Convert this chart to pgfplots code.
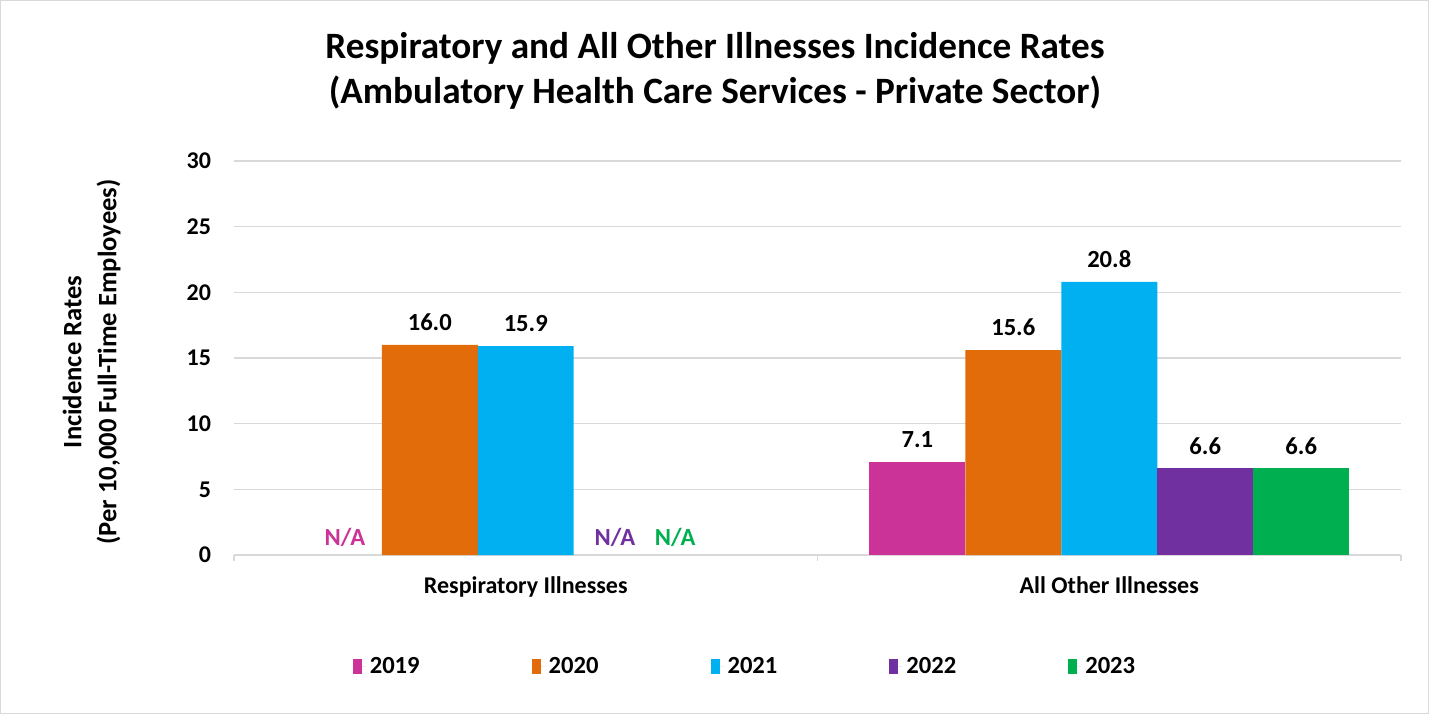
\documentclass[border=0pt]{standalone}
\usepackage{fontspec}
\setmainfont{Carlito}
\usepackage{pgfplots}
\pgfplotsset{compat=1.18}
\definecolor{c19}{HTML}{CC3399}
\definecolor{c20}{HTML}{E36C0A}
\definecolor{c21}{HTML}{00B0F0}
\definecolor{c22}{HTML}{7030A0}
\definecolor{c23}{HTML}{00B050}
\definecolor{gridc}{HTML}{D9D9D9}
\begin{document}
\begin{tikzpicture}[font=\bfseries]
\useasboundingbox (0,0) rectangle (714.5pt,357pt);
\draw[gridc, line width=0.5pt] (0.25pt,0.25pt) rectangle (714.25pt,356.75pt);
\node[font=\fontsize{18.6}{22}\selectfont\bfseries] at (357.5pt,333pt) {Respiratory and All Other Illnesses Incidence Rates};
\node[font=\fontsize{18.6}{22}\selectfont\bfseries] at (357.5pt,310.5pt) {(Ambulatory Health Care Services - Private Sector)};
\begin{axis}[
  at={(117pt,79.5pt)}, anchor=south west,
  scale only axis, width=583.5pt, height=197pt,
  xmin=-0.5, xmax=1.5, ymin=0, ymax=30,
  ytick={0,5,...,30},
  ymajorgrids, grid style={gridc, line width=0.75pt},
  axis x line*=bottom, axis y line*=left,
  y axis line style={draw=none},
  x axis line style={gridc, line width=0.75pt},
  ytick style={draw=none},
  xtick={-0.5,0.5,1.5}, xticklabels={},
  xtick style={gridc, line width=0.75pt},
  tick align=outside, major tick length=3pt,
  extra x ticks={0,1},
  extra x tick labels={Respiratory Illnesses, All Other Illnesses},
  extra x tick style={major tick length=0pt, tick style={draw=none}, xticklabel style={yshift=-7.5pt}},
  ticklabel style={font=\fontsize{12}{14}\selectfont\bfseries},
  yticklabel style={xshift=-5pt},
  /pgf/number format/assume math mode=true,
  ylabel={Incidence Rates\\(Per 10,000 Full-Time Employees)},
  ylabel style={at={(axis description cs:-0.122,0.49)}, anchor=center, align=center, font=\fontsize{13.3}{17.5}\selectfont\bfseries},
  ybar, bar width=0.1645,
  nodes near coords,
  nodes near coords style={font=\fontsize{12.3}{14}\selectfont\bfseries, black, yshift=3.5pt, /pgf/number format/fixed, /pgf/number format/fixed zerofill, /pgf/number format/precision=1, /pgf/number format/assume math mode=true},
  legend columns=5,
  legend style={at={(axis description cs:0.4387,-0.284)}, anchor=center, draw=none, font=\fontsize{12.3}{14}\selectfont\bfseries, /tikz/every even column/.append style={column sep=54pt}},
  legend image code/.code={\fill[#1] (0pt,-3.75pt) rectangle (4.5pt,3.75pt); \path (4.5pt,0pt) -- (6.5pt,0pt);},
]
\addplot[fill=c19, draw=none, bar shift=-0.329] coordinates {(1,7.1)};
\addplot[fill=c20, draw=none, bar shift=-0.1645] coordinates {(0,16.0) (1,15.6)};
\addplot[fill=c21, draw=none, bar shift=0] coordinates {(0,15.9) (1,20.8)};
\addplot[fill=c22, draw=none, bar shift=0.1645] coordinates {(1,6.6)};
\addplot[fill=c23, draw=none, bar shift=0.329] coordinates {(1,6.6)};
\legend{2019,2020,2021,2022,2023}
\node[c19, font=\fontsize{12.3}{14}\selectfont\bfseries] at (axis cs:-0.310,1.37) {N/A};
\node[c22, font=\fontsize{12.3}{14}\selectfont\bfseries] at (axis cs:0.153,1.37) {N/A};
\node[c23, font=\fontsize{12.3}{14}\selectfont\bfseries] at (axis cs:0.256,1.37) {N/A};
\end{axis}
\end{tikzpicture}
\end{document}
